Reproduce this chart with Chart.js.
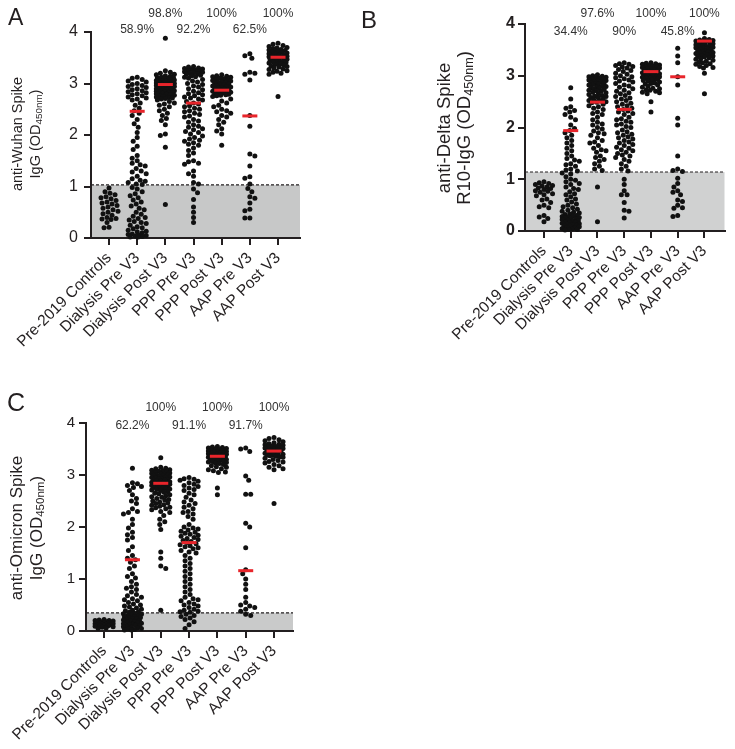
<!DOCTYPE html>
<html>
<head>
<meta charset="utf-8">
<script src="https://cdn.jsdelivr.net/npm/chart.js@4.4.0/dist/chart.umd.min.js"></script>
<style>
  html, body { margin: 0; padding: 0; background: #fff; }
  #wrap { position: relative; width: 735px; height: 749px; }
  canvas { position: absolute; left: 0; top: 0; }
</style>
</head>
<body>
<div id="wrap">
  <canvas id="panelA" width="735" height="749"></canvas>
  <canvas id="panelB" width="735" height="749"></canvas>
  <canvas id="panelC" width="735" height="749"></canvas>
</div>
<script>
const groups = ['Pre-2019 Controls', 'Dialysis Pre V3', 'Dialysis Post V3', 'PPP Pre V3', 'PPP Post V3', 'AAP Pre V3', 'AAP Post V3'];
const yTicks = [0, 1, 2, 3, 4];

// A - anti-Wuhan Spike IgG
const wuhanControls = [0.97,0.9,0.87,0.84,0.8,0.78,0.76,0.73,0.7,0.68,0.66,0.63,0.6,0.58,0.55,0.52,0.5,0.47,0.44,0.4,0.38,0.37,0.36,0.3,0.21,0.2];
const wuhanDialPre = [3.12,3.1,3.08,3.05,3.03,3.0,2.98,2.96,2.94,2.92,2.9,2.88,2.86,2.84,2.82,2.8,2.78,2.76,2.74,2.72,2.7,2.68,2.62,2.58,2.52,2.47,2.42,2.38,2.3,2.22,2.15,2.05,1.95,1.88,1.78,1.72,1.6,1.55,1.5,1.45,1.42,1.4,1.35,1.3,1.28,1.25,1.2,1.15,1.12,1.1,1.08,1.05,1.04,
  0.98,0.95,0.9,0.86,0.82,0.78,0.74,0.7,0.66,0.62,0.58,0.55,0.5,0.46,0.42,0.4,0.38,0.35,0.32,0.3,0.28,0.25,0.22,0.2,0.18,0.15,0.13,0.12,0.1,0.08,0.07,0.06,0.05,0.04,0.03,0.02,0.02];
const wuhanDialPost = [3.88,3.25,3.22,3.2,3.18,3.17,3.15,3.14,3.12,3.11,3.1,3.09,3.08,3.07,3.06,3.05,3.04,3.03,3.02,3.01,3.0,3.0,2.99,2.98,2.97,2.96,2.96,2.95,2.94,2.93,2.92,2.92,2.91,2.9,2.89,2.88,2.88,2.87,2.86,2.85,2.84,2.83,2.82,2.81,2.8,2.79,2.78,2.77,2.76,2.75,2.74,2.73,2.72,2.71,2.7,
  3.05,3.02,2.98,2.95,2.93,2.9,3.08,3.12,2.86,2.83,3.0,2.97,2.68,2.65,2.62,2.6,2.58,2.55,2.5,2.47,2.42,2.38,2.32,2.28,2.2,2.02,1.99,1.76,0.65];
const wuhanPPPPre = [3.33,3.32,3.3,3.29,3.28,3.27,3.26,3.25,3.24,3.23,3.22,3.21,3.2,3.19,3.18,3.16,3.15,3.13,3.12,3.1,
  3.08,3.05,3.03,3.0,2.98,2.95,2.93,2.9,2.88,2.85,2.82,2.8,2.78,2.76,2.74,2.72,2.7,2.68,
  2.65,2.62,2.6,2.57,2.55,2.52,2.5,2.47,2.45,2.42,2.4,2.37,2.35,2.3,2.27,2.25,2.2,2.17,2.15,2.12,2.1,2.07,2.05,2.02,
  1.98,1.95,1.92,1.9,1.88,1.85,1.82,1.8,1.75,1.7,1.65,1.6,1.5,1.48,1.45,1.43,1.3,1.25,1.2,1.08,1.05,
  0.95,0.88,0.75,0.6,0.5,0.4,0.3];
const wuhanPPPPost = [3.17,3.15,3.14,3.13,3.12,3.1,3.09,3.08,3.07,3.06,3.05,3.04,3.03,3.02,3.0,2.99,2.98,2.97,2.96,2.95,2.94,2.93,2.92,2.91,2.9,2.89,2.88,2.87,2.86,2.85,2.84,2.83,2.82,2.81,2.8,2.79,2.78,2.77,2.76,2.75,
  2.7,2.66,2.62,2.58,2.55,2.5,2.47,2.45,2.42,2.38,2.35,2.3,2.25,2.2,2.12,2.08,2.02,1.8];
const wuhanAAPPre = [3.58,3.54,3.49,3.22,3.2,3.18,3.07,2.38,2.17,1.63,1.59,1.4,1.19,1.16,1.05,0.96,0.9,0.8,0.77,0.68,0.56,0.53,0.39,0.39];
const wuhanAAPPost = [3.78,3.76,3.74,3.72,3.7,3.69,3.68,3.66,3.65,3.64,3.63,3.62,3.61,3.6,3.59,3.58,3.57,3.56,3.55,3.54,3.53,3.52,3.51,3.5,3.49,3.48,3.47,3.46,3.45,3.44,3.43,3.42,3.41,3.4,3.39,3.38,3.37,3.36,3.34,3.33,3.32,3.3,3.28,3.27,3.25,3.24,3.22,3.2,3.18,2.75];
const wuhanMedians = [null, 2.46, 2.98, 2.62, 2.87, 2.37, 3.51];
const wuhanPercents = ['', '58.9%', '98.8%', '92.2%', '100%', '62.5%', '100%'];
const wuhanCutoff = 1.03;

// B - anti-Delta Spike R10-IgG
const deltaControls = [0.95,0.93,0.92,0.9,0.88,0.87,0.85,0.83,0.82,0.8,0.78,0.77,0.75,0.72,0.7,0.68,0.62,0.6,0.55,0.5,0.47,0.45,0.3,0.27,0.24,0.18];
const deltaDialPre = [2.77,2.55,2.4,2.37,2.33,2.3,2.25,2.2,2.15,2.05,1.98,1.94,1.9,1.85,1.8,1.75,1.7,1.65,1.6,1.55,1.5,1.45,1.4,1.37,1.35,1.3,1.28,1.25,1.2,1.18,1.16,
  1.12,1.1,1.05,1.0,0.98,0.95,0.92,0.9,0.85,0.82,0.8,0.76,0.72,0.7,0.66,0.62,0.6,0.56,0.52,0.5,0.47,0.45,0.42,0.4,
  0.38,0.36,0.35,0.33,0.32,0.3,0.29,0.28,0.27,0.26,0.25,0.24,0.23,0.22,0.21,0.2,0.19,0.18,0.17,0.16,0.15,0.14,0.13,0.12,0.11,0.1,0.09,0.08,0.07,0.06,0.05,0.04,0.03,0.03,0.02];
const deltaDialPost = [3.02,3.0,2.99,2.98,2.97,2.96,2.95,2.94,2.93,2.92,2.91,2.9,2.89,2.88,2.87,2.86,2.85,2.84,2.83,2.82,2.8,2.79,2.78,2.77,2.76,2.75,2.74,2.72,2.71,2.7,2.68,2.67,2.65,2.64,2.62,2.61,2.6,2.58,2.57,2.55,2.54,2.52,2.51,2.5,2.49,2.48,
  2.45,2.42,2.4,2.37,2.35,2.3,2.27,2.25,2.2,2.15,2.1,2.07,2.05,2.0,1.97,1.93,1.9,1.88,1.85,1.8,1.75,1.72,
  1.7,1.65,1.6,1.57,1.55,1.52,1.45,1.42,1.38,1.35,1.3,1.25,1.2,1.17,0.85,0.18];
const deltaPPPPre = [3.25,3.23,3.22,3.2,3.18,3.17,3.15,3.12,3.1,3.08,3.05,3.03,3.0,2.98,2.96,2.94,2.92,2.9,2.88,2.85,2.82,2.8,
  2.78,2.75,2.72,2.7,2.67,2.65,2.62,2.6,2.57,2.55,2.52,2.5,2.47,2.45,2.42,2.4,2.37,2.35,2.32,2.3,
  2.27,2.25,2.2,2.17,2.15,2.12,2.1,2.07,2.05,2.02,2.0,1.95,1.92,1.9,1.87,1.85,1.82,1.8,1.78,1.75,
  1.72,1.7,1.67,1.65,1.62,1.6,1.57,1.55,1.52,1.5,1.47,1.45,1.42,1.38,1.35,1.3,1.25,1.2,1.16,
  1.0,0.9,0.78,0.7,0.7,0.55,0.4,0.38,0.25];
const deltaPPPPost = [3.25,3.24,3.23,3.22,3.21,3.2,3.19,3.18,3.17,3.16,3.15,3.14,3.13,3.12,3.11,3.1,3.09,3.08,3.07,3.06,3.05,3.04,3.03,3.02,3.01,3.0,2.99,2.98,2.97,2.96,2.95,2.94,2.93,2.92,2.91,2.9,2.88,2.86,2.85,2.84,2.82,2.8,2.78,2.76,2.75,2.73,2.72,2.7,2.68,2.67,2.65,2.5,2.3];
const deltaAAPPre = [3.53,3.38,3.25,2.98,2.82,2.18,2.05,1.45,1.2,1.17,1.15,1.02,0.92,0.85,0.78,0.75,0.7,0.6,0.57,0.5,0.45,0.44,0.3,0.28];
const deltaAAPPost = [3.83,3.72,3.7,3.69,3.68,3.67,3.66,3.65,3.64,3.63,3.62,3.6,3.59,3.58,3.57,3.56,3.55,3.54,3.53,3.52,3.51,3.5,3.49,3.48,3.47,3.46,3.45,3.44,3.43,3.42,3.41,3.4,3.39,3.38,3.37,3.36,3.35,3.33,3.32,3.3,3.28,3.26,3.25,3.23,3.22,3.2,3.18,3.16,3.15,3.05,2.65];
const deltaMedians = [null, 1.94, 2.49, 2.35, 3.08, 2.98, 3.67];
const deltaPercents = ['', '34.4%', '97.6%', '90%', '100%', '45.8%', '100%'];
const deltaCutoff = 1.14;

// C - anti-Omicron Spike IgG
const omicronControls = [0.22,0.21,0.2,0.2,0.19,0.18,0.18,0.17,0.16,0.16,0.15,0.15,0.14,0.14,0.13,0.13,0.12,0.12,0.11,0.1,0.1,0.09,0.08,0.07,0.06,0.05];
const omicronDialPre = [3.13,2.85,2.83,2.8,2.78,2.76,2.7,2.62,2.55,2.5,2.45,2.35,2.3,2.28,2.25,2.15,2.05,1.98,1.9,1.85,1.8,1.75,1.62,1.55,1.45,1.4,1.37,1.32,1.25,1.2,1.1,1.05,1.02,0.95,0.9,0.85,0.82,0.8,0.75,0.7,0.68,0.65,0.62,0.6,0.58,0.55,0.52,0.5,0.48,0.46,0.44,0.42,0.4,0.39,0.37,0.36,
  0.34,0.33,0.32,0.31,0.3,0.29,0.28,0.27,0.26,0.25,0.24,0.23,0.22,0.21,0.2,0.19,0.18,0.17,0.16,0.15,0.14,0.13,0.12,0.11,0.1,0.09,0.08,0.07,0.06,0.05,0.04,0.03,0.02,0.02];
const omicronDialPost = [3.33,3.15,3.13,3.12,3.1,3.09,3.08,3.07,3.06,3.05,3.04,3.03,3.02,3.01,3.0,2.99,2.98,2.97,2.96,2.95,2.94,2.93,2.92,2.91,2.9,2.89,2.88,2.87,2.86,2.85,2.84,2.83,2.82,2.81,2.8,2.79,2.78,2.77,2.76,2.75,2.74,2.73,2.72,2.71,2.7,2.68,2.67,2.65,2.64,2.62,2.6,2.58,2.57,2.55,2.53,2.52,2.5,2.48,2.46,2.45,2.43,2.42,2.4,2.38,2.37,2.35,2.33,
  2.9,2.95,2.85,3.0,2.8,2.3,2.28,2.22,2.15,2.1,2.05,1.95,1.52,1.4,1.25,1.2,0.4];
const omicronPPPPre = [2.95,2.93,2.92,2.9,2.88,2.85,2.82,2.8,2.78,2.75,2.72,2.7,2.65,2.62,
  2.57,2.52,2.48,2.45,2.42,2.38,2.35,2.3,2.28,2.25,2.2,2.15,
  2.05,2.0,1.98,1.96,1.94,1.92,1.9,1.88,1.86,1.84,1.82,1.8,1.78,1.76,1.74,1.72,1.7,1.68,1.66,1.64,1.62,1.6,1.58,1.55,1.52,1.5,
  1.45,1.4,1.35,1.3,1.25,1.2,1.15,1.1,1.05,1.0,0.95,0.9,
  0.85,0.8,0.75,0.7,0.65,0.62,0.6,0.58,0.55,0.52,0.5,0.48,0.45,0.42,0.4,0.38,0.37,0.36,
  0.32,0.3,0.28,0.25,0.22,0.18,0.12,0.05];
const omicronPPPPost = [3.55,3.54,3.53,3.52,3.51,3.5,3.49,3.48,3.47,3.46,3.45,3.45,3.44,3.43,3.42,3.42,3.41,3.4,3.4,3.39,3.38,3.38,3.37,3.36,3.35,3.35,3.34,3.33,3.32,3.31,3.3,3.3,3.29,3.28,3.27,3.26,3.25,3.24,3.23,3.22,3.2,3.18,3.16,3.15,3.12,3.1,3.08,3.06,3.05,2.75,2.62];
const omicronAAPPre = [3.52,3.5,3.45,2.98,2.9,2.63,2.63,2.07,2.0,1.6,1.18,1.1,1.0,0.9,0.8,0.65,0.55,0.5,0.48,0.45,0.42,0.38,0.32,0.3];
const omicronAAPPost = [3.72,3.7,3.68,3.66,3.64,3.62,3.6,3.59,3.58,3.57,3.56,3.55,3.54,3.53,3.52,3.51,3.5,3.49,3.48,3.47,3.46,3.45,3.44,3.43,3.42,3.41,3.4,3.39,3.38,3.37,3.36,3.35,3.34,3.32,3.3,3.28,3.26,3.25,3.23,3.2,3.18,3.15,3.12,3.1,2.45];
const omicronMedians = [null, 1.37, 2.84, 1.70, 3.36, 1.16, 3.46];
const omicronPercents = ['', '62.2%', '100%', '91.1%', '100%', '91.7%', '100%'];
const omicronCutoff = 0.35;

const FONT = "'Liberation Sans', Arial, Helvetica, sans-serif";
const INK = '#231f20';
const W = 735, H = 749;
const DOT_R = 2.5;

// lay points out side by side (beeswarm), capped width like the Prism plot
function swarm(vals, pxX, pxY) {
  const placed = [];
  const cap = 9;
  const sorted = vals.slice().sort((a, b) => b - a);
  return sorted.map((v, n) => {
    const py = v * pxY;
    const cands = [0];
    for (let k = 1; k <= cap; k++) {
      if (n % 2) cands.push(-k, k); else cands.push(k, -k);
    }
    let best = 0, bestD = -1;
    for (const c of cands) {
      let dmin = Infinity;
      for (const p of placed) {
        const d = Math.hypot(p.x - c, p.y - py);
        if (d < dmin) dmin = d;
      }
      if (dmin >= 2 * DOT_R - 0.2) { best = c; break; }
      if (dmin > bestD) { bestD = dmin; best = c; }
    }
    placed.push({ x: best, y: py });
    return { x: best / pxX, y: v };
  });
}

function drawRich(ctx, parts, cx, cy, size) {
  ctx.save();
  ctx.translate(cx, cy);
  ctx.rotate(-Math.PI / 2);
  ctx.textBaseline = 'middle';
  ctx.textAlign = 'left';
  const fonts = parts.map(p => (p.sub ? size * 0.68 : size) + 'px ' + FONT);
  const widths = parts.map((p, i) => { ctx.font = fonts[i]; return ctx.measureText(p.t).width; });
  let xx = -widths.reduce((a, b) => a + b, 0) / 2;
  parts.forEach((p, i) => {
    ctx.font = fonts[i];
    ctx.fillText(p.t, xx, p.sub ? size * 0.25 : 0);
    xx += widths[i];
  });
  ctx.restore();
}

function makePanel(id, cfg) {
  const a = cfg.area;
  const pxX = (a.right - a.left) / (cfg.xMax - cfg.xMin);
  const pxY = (a.bottom - a.top) / 4;

  const points = [];
  cfg.series.forEach((vals, i) => {
    swarm(vals, pxX, pxY).forEach(p => points.push({ x: i + p.x, y: p.y }));
  });
  const medians = [];
  cfg.medians.forEach((m, i) => { if (m != null) medians.push({ x: i, y: m }); });

  const deco = {
    id: 'deco',
    beforeDraw(chart) {
      const { ctx, chartArea: ca, scales: { y } } = chart;
      const yc = y.getPixelForValue(cfg.cutoff);
      const y0 = y.getPixelForValue(0);
      ctx.save();
      ctx.fillStyle = cfg.shade;
      ctx.fillRect(ca.left, yc, ca.right - ca.left, y0 - yc);
      ctx.strokeStyle = INK;
      ctx.lineWidth = 1.2;
      ctx.setLineDash([3, 2]);
      ctx.beginPath();
      ctx.moveTo(ca.left, yc);
      ctx.lineTo(ca.right, yc);
      ctx.stroke();
      ctx.restore();
    },
    afterDraw(chart) {
      const { ctx, scales: { x } } = chart;
      ctx.save();
      ctx.fillStyle = '#333';
      ctx.font = '12px ' + FONT;
      ctx.textAlign = 'center';
      ctx.textBaseline = 'middle';
      cfg.percents.forEach((t, i) => {
        if (!t) return;
        ctx.fillText(t, x.getPixelForValue(i), i % 2 ? cfg.pctRows[1] : cfg.pctRows[0]);
      });
      ctx.fillStyle = INK;
      ctx.textAlign = 'left';
      ctx.textBaseline = 'alphabetic';
      ctx.font = cfg.letterSize + 'px ' + FONT;
      ctx.fillText(cfg.letter, cfg.letterPos[0], cfg.letterPos[1]);
      cfg.title.forEach((line, i) => drawRich(ctx, line, cfg.titleX[i], cfg.titleY, cfg.titleSize));
      ctx.restore();
    }
  };

  const axisGrid = { drawOnChartArea: false, drawTicks: true, tickLength: 7, color: INK, lineWidth: 2 };
  const axisBorder = { color: INK, width: 2 };

  new Chart(document.getElementById(id), {
    type: 'scatter',
    data: {
      datasets: [
        { data: medians, pointStyle: 'line', radius: 7.5, borderWidth: 3, borderColor: '#e8252b', order: 0, clip: false },
        { data: points, backgroundColor: '#111', borderWidth: 0, radius: DOT_R, order: 1, clip: false }
      ]
    },
    options: {
      responsive: false,
      animation: false,
      devicePixelRatio: 1,
      events: [],
      layout: { padding: { left: 0, top: a.top, right: W - a.right, bottom: 0 } },
      plugins: { legend: { display: false }, tooltip: { enabled: false } },
      scales: {
        x: {
          type: 'linear',
          min: cfg.xMin,
          max: cfg.xMax,
          afterBuildTicks: s => { s.ticks = groups.map((g, i) => ({ value: i })); },
          afterFit: s => { s.height = H - a.bottom; s.paddingLeft = 0; s.paddingRight = 0; },
          ticks: {
            callback: v => groups[v],
            autoSkip: false,
            minRotation: 45,
            maxRotation: 45,
            padding: 4,
            color: INK,
            font: { family: FONT, size: 15.5 }
          },
          grid: axisGrid,
          border: axisBorder
        },
        y: {
          min: 0,
          max: 4,
          afterBuildTicks: s => { s.ticks = yTicks.map(v => ({ value: v })); },
          afterFit: s => { s.width = a.left; },
          ticks: {
            padding: cfg.yTickPad,
            color: INK,
            font: { family: FONT, size: cfg.yTickSize, weight: cfg.yTickWeight }
          },
          grid: axisGrid,
          border: axisBorder
        }
      }
    },
    plugins: [deco]
  });
}

makePanel('panelA', {
  series: [wuhanControls, wuhanDialPre, wuhanDialPost, wuhanPPPPre, wuhanPPPPost, wuhanAAPPre, wuhanAAPPost],
  medians: wuhanMedians, percents: wuhanPercents, cutoff: wuhanCutoff,
  area: { left: 91, right: 300, top: 32, bottom: 238 }, xMin: -0.64, xMax: 6.78,
  shade: '#c7c8c8', pctRows: [14, 30],
  letter: 'A', letterSize: 23, letterPos: [8, 25],
  title: [[{ t: 'anti-Wuhan Spike' }], [{ t: 'IgG (OD' }, { t: '450nm', sub: true }, { t: ')' }]],
  titleX: [18, 36], titleY: 134, titleSize: 14.5,
  yTickSize: 16, yTickWeight: 'normal', yTickPad: 6
});

makePanel('panelB', {
  series: [deltaControls, deltaDialPre, deltaDialPost, deltaPPPPre, deltaPPPPost, deltaAAPPre, deltaAAPPost],
  medians: deltaMedians, percents: deltaPercents, cutoff: deltaCutoff,
  area: { left: 525, right: 735, top: 24, bottom: 231 }, xMin: -0.71, xMax: 6.75,
  shade: '#d0d1d1', pctRows: [14, 32],
  letter: 'B', letterSize: 24, letterPos: [361, 28],
  title: [[{ t: 'anti-Delta Spike' }], [{ t: 'R10-IgG (OD' }, { t: '450nm', sub: true }, { t: ')' }]],
  titleX: [445, 465], titleY: 128, titleSize: 18.5,
  yTickSize: 16, yTickWeight: 'bold', yTickPad: 3
});

makePanel('panelC', {
  series: [omicronControls, omicronDialPre, omicronDialPost, omicronPPPPre, omicronPPPPost, omicronAAPPre, omicronAAPPost],
  medians: omicronMedians, percents: omicronPercents, cutoff: omicronCutoff,
  area: { left: 86, right: 293, top: 423, bottom: 631 }, xMin: -0.64, xMax: 6.67,
  shade: '#c9caca', pctRows: [408, 426],
  letter: 'C', letterSize: 25, letterPos: [7, 411],
  title: [[{ t: 'anti-Omicron Spike' }], [{ t: 'IgG (OD' }, { t: '450nm', sub: true }, { t: ')' }]],
  titleX: [17, 37], titleY: 528, titleSize: 17,
  yTickSize: 15, yTickWeight: 'normal', yTickPad: 4
});
</script>
</body>
</html>
